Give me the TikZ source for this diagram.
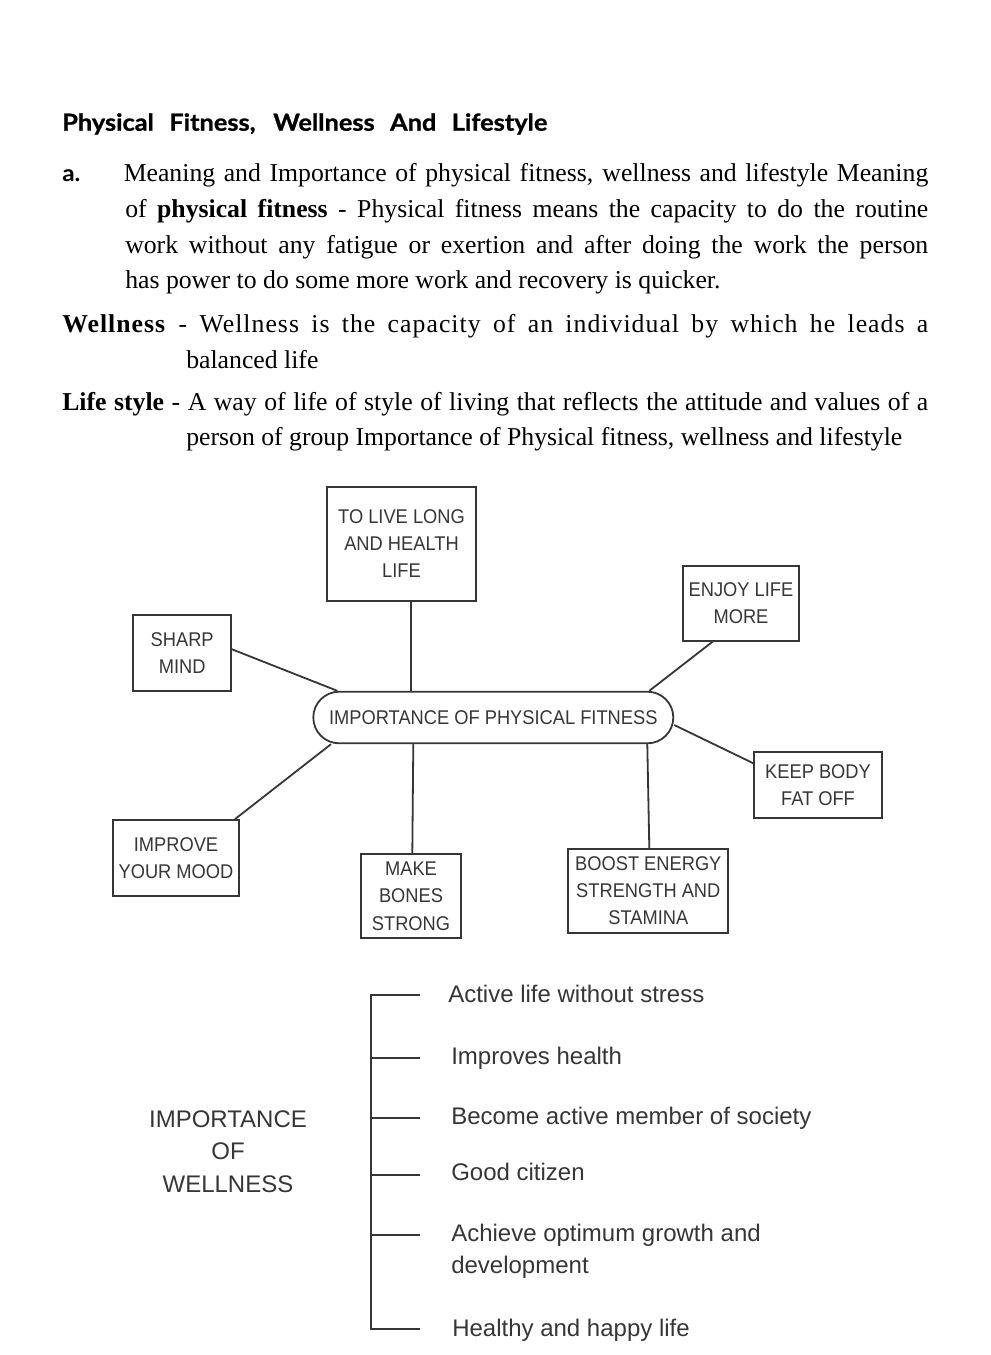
\documentclass[tikz,border=0pt]{standalone}
\usepackage{fontspec}
\usepackage{graphicx}
\setmainfont{Liberation Serif}
\newfontfamily\diagfont{Liberation Sans}
\newfontfamily\boxfont[FakeStretch=0.92]{Liberation Sans}
\newfontfamily\headfont[FakeStretch=1.08]{Lato}
\usetikzlibrary{calc}
\definecolor{ink}{HTML}{363636}
\newsavebox\jbox
\newcommand\jline[2]{\sbox\jbox{#2}\ifdim\wd\jbox>#1\relax\resizebox{#1}{\height}{\usebox\jbox}\else\makebox[#1][s]{#2}\fi}
\begin{document}
\begin{tikzpicture}[x=0.75pt,y=-0.75pt,
  body/.style={anchor=base west, inner sep=0, font=\fontsize{19.3}{21}\selectfont},
  box/.style={draw=ink, line width=1.35pt, text=ink, align=center, inner sep=0,
    font=\boxfont\fontsize{14.9}{20.3}\selectfont},
  conn/.style={draw=ink, line width=1.35pt},
  item/.style={anchor=base west, inner sep=0, text=ink, font=\diagfont\fontsize{18}{24}\selectfont}]
\useasboundingbox (0,0) rectangle (991,1355);

% ---------- text block ----------
\node[anchor=base west, inner sep=0, font=\headfont\bfseries\addfontfeature{FakeBold=1}\fontsize{17.6}{19}\selectfont] (title) at (62,130.7)
  {\jline{363.75pt}{Physical Fitness, Wellness And Lifestyle}};
\node[anchor=base west, inner sep=0, font=\headfont\bfseries\fontsize{17}{19}\selectfont] (la) at (62,182) {a.};
\node[body] (l1) at (123.5,182) {\jline{603.4pt}{Meaning and Importance of physical fitness, wellness and lifestyle Meaning}};
\node[body] (l2) at (125,217.5) {\jline{602.25pt}{of \textbf{physical fitness} - Physical fitness means the capacity to do the routine}};
\node[body] (l3) at (125,253) {\jline{602.25pt}{work without any fatigue or exertion and after doing the work the person}};
\node[body] (l4) at (125,288.5) {has power to do some more work and recovery is quicker.};
\node[body] (l5) at (62,332.7) {\jline{649.5pt}{\addfontfeature{LetterSpace=4}\textbf{Wellness} - Wellness is the capacity of an individual by which he leads a}};
\node[body] (l6) at (186,368) {balanced life};
\node[body] (l7) at (62,410.7) {\jline{649.5pt}{\textbf{Life style} - A way of life of style of living that reflects the attitude and values of a}};
\node[body] (l8) at (186,445) {person of group Importance of Physical fitness, wellness and lifestyle};

% ---------- fitness diagram ----------
\node[box, minimum width=270pt, minimum height=38.7pt, rounded corners=19.35pt] (pill) at (493.3,717.5) {IMPORTANCE OF PHYSICAL FITNESS};
\node[box, minimum width=111.3pt, minimum height=85.5pt] (live) at (401.5,543.7) {TO LIVE LONG\\AND HEALTH\\LIFE};
\node[box, minimum width=73.3pt, minimum height=56.8pt] (sharp) at (182.2,652.9) {SHARP\\MIND};
\node[box, minimum width=86.6pt, minimum height=56.25pt] (enjoy) at (741,603.2) {ENJOY LIFE\\MORE};
\node[box, minimum width=95.6pt, minimum height=49.5pt] (keep) at (818,785.3) {KEEP BODY\\FAT OFF};
\node[box, minimum width=95pt, minimum height=57pt] (improve) at (176,858) {IMPROVE\\YOUR MOOD};
\node[box, minimum width=75pt, minimum height=63.2pt] (make) at (411,896.2) {MAKE\\BONES\\STRONG};
\node[box, minimum width=120pt, minimum height=62.8pt] (boost) at (648.3,890.9) {BOOST ENERGY\\STRENGTH AND\\STAMINA};

\draw[conn] (live.south -| 411,0) -- (pill.north -| 411,0);
\draw[conn] (sharp.east |- 0,649.3) -- (pill.north -| 337.3,0);
\draw[conn] (enjoy.south -| 712.7,0) -- (pill.north -| 649.3,0);
\draw[conn] (pill.east |- 0,725) -- (keep.west |- 0,763.3);
\draw[conn] (pill.south -| 331,0) -- (improve.north -| 235,0);
\draw[conn] (pill.south -| 413.3,0) -- (make.north -| 412.3,0);
\draw[conn] (pill.south -| 647.3,0) -- (boost.north -| 649.3,0);

% ---------- wellness ----------
\node[align=center, inner sep=0, text=ink, font=\diagfont\fontsize{18}{24.4}\selectfont] (well) at (228,1151.5) {IMPORTANCE\\OF\\WELLNESS};

\foreach \n/\y in {1/995,2/1058,3/1118,4/1175,5/1235,6/1329}{
  \coordinate (b\n) at (371,\y);
  \coordinate (t\n) at (420,\y);
  \draw[conn] (b\n) -- (t\n);
}
\draw[conn] ([yshift=0.6pt]b1) -- ([yshift=-0.6pt]b6);

\node[item] (w1) at (448,1002.7) {Active life without stress};
\node[item] (w2) at (451,1064.7) {Improves health};
\node[item] (w3) at (451,1124.7) {Become active member of society};
\node[item] (w4) at (451,1180.7) {Good citizen};
\node[item] (w5) at (451,1241.7) {Achieve optimum growth and};
\node[item] (w5b) at (451,1273.7) {development};
\node[item] (w6) at (452,1336.7) {Healthy and happy life};
\end{tikzpicture}
\end{document}
